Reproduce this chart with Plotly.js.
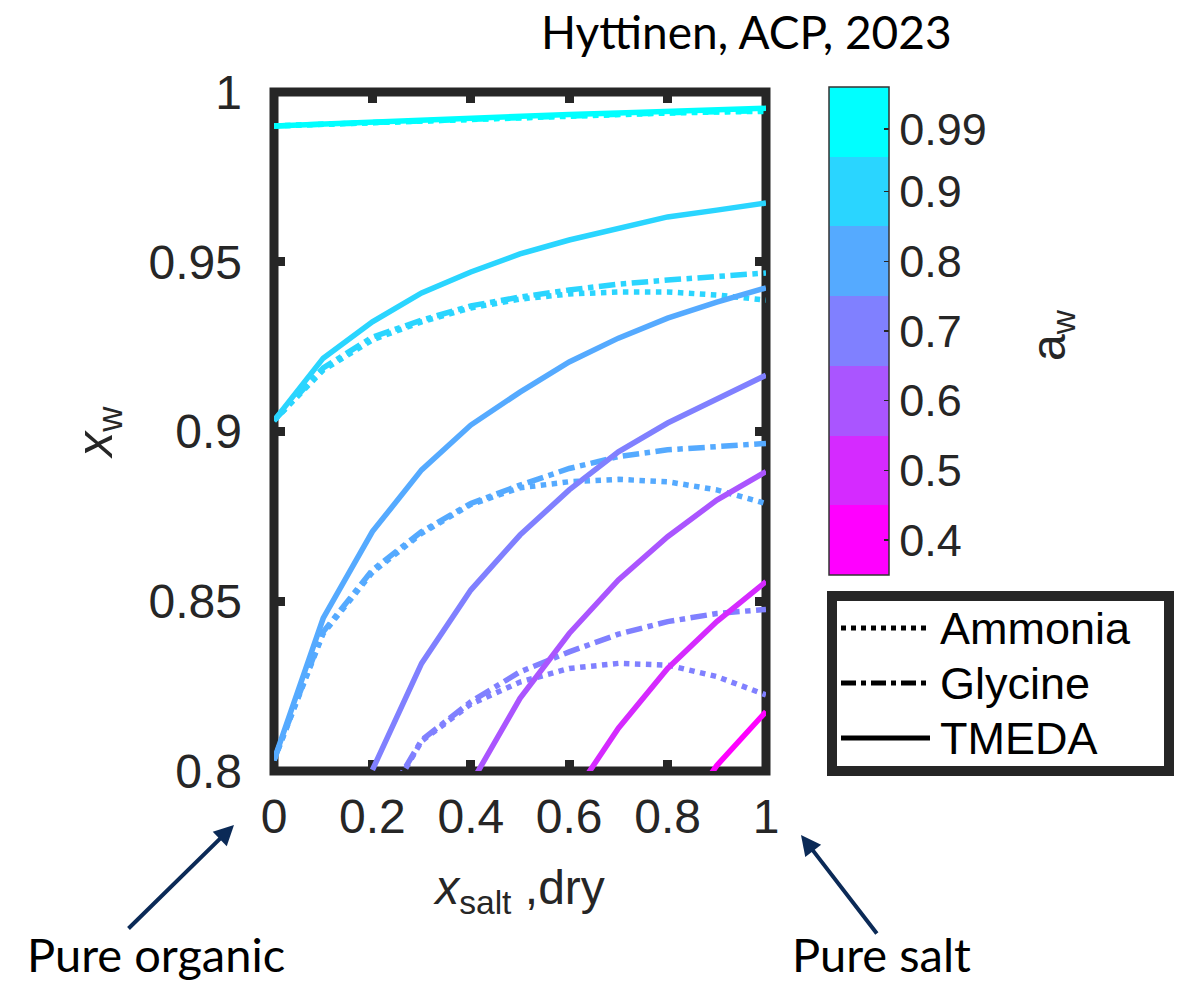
<!DOCTYPE html>
<html>
<head>
<meta charset="utf-8">
<script src="https://cdn.plot.ly/plotly-3.0.1.min.js"></script>
<style>
  html, body { margin: 0; padding: 0; background: #ffffff; }
  #chart { width: 1182px; height: 983px; }
</style>
</head>
<body>
<div id="chart"></div>
<script>
// ---------------- data ----------------
const xSaltDry = [0, 0.1, 0.2, 0.3, 0.4, 0.5, 0.6, 0.7, 0.8, 0.9, 1.0];

const awLevels = [0.99, 0.9, 0.8, 0.7, 0.6, 0.5, 0.4];
const awColors = ['#00ffff', '#2ad5ff', '#55aaff', '#8080ff', '#aa55ff', '#d52aff', '#ff00ff'];
const awTickText = ['0.99', '0.9', '0.8', '0.7', '0.6', '0.5', '0.4'];

// TMEDA (solid)
const tmeda_099 = [0.9900, 0.9906, 0.9912, 0.9918, 0.9924, 0.9929, 0.9934, 0.9938, 0.9942, 0.9947, 0.9952];
const tmeda_090 = [0.9032, 0.9216, 0.9323, 0.9408, 0.9470, 0.9523, 0.9564, 0.9600, 0.9632, 0.9652, 0.9673];
const tmeda_080 = [0.8032, 0.8450, 0.8705, 0.8887, 0.9019, 0.9116, 0.9205, 0.9275, 0.9334, 0.9381, 0.9423];
const tmeda_070 = [null, null, 0.8003, 0.8317, 0.8533, 0.8695, 0.8828, 0.8940, 0.9025, 0.9095, 0.9166];
const tmeda_060 = [null, null, null, null, 0.7962, 0.8214, 0.8405, 0.8563, 0.8690, 0.8798, 0.8882];
const tmeda_050 = [null, null, null, null, null, null, 0.7910, 0.8126, 0.8302, 0.8440, 0.8558];
const tmeda_040 = [null, null, null, null, null, null, null, null, 0.7810, 0.8016, 0.8175];

// Glycine (dash-dot)
const glycine_099 = [0.9900, 0.9905, 0.9911, 0.9917, 0.9922, 0.9927, 0.9932, 0.9936, 0.9939, 0.9942, 0.9945];
const glycine_090 = [0.9032, 0.9187, 0.9278, 0.9328, 0.9370, 0.9396, 0.9417, 0.9434, 0.9446, 0.9458, 0.9467];
const glycine_080 = [0.8032, 0.8410, 0.8592, 0.8705, 0.8788, 0.8842, 0.8891, 0.8926, 0.8946, 0.8957, 0.8965];
const glycine_070 = [null, null, 0.7846, 0.8091, 0.8204, 0.8292, 0.8351, 0.8403, 0.8440, 0.8464, 0.8476];

// Ammonia (dotted)
const ammonia_099 = [0.9900, 0.9905, 0.9911, 0.9916, 0.9921, 0.9926, 0.9930, 0.9934, 0.9938, 0.9941, 0.9943];
const ammonia_090 = [0.9032, 0.9181, 0.9270, 0.9323, 0.9364, 0.9390, 0.9405, 0.9411, 0.9411, 0.9402, 0.9387];
const ammonia_080 = [0.8032, 0.8405, 0.8585, 0.8700, 0.8785, 0.8834, 0.8852, 0.8859, 0.8852, 0.8828, 0.8788];
const ammonia_070 = [null, null, 0.7840, 0.8088, 0.8197, 0.8262, 0.8302, 0.8317, 0.8312, 0.8278, 0.8224];

const xTickVals = [0, 0.2, 0.4, 0.6, 0.8, 1];
const xTickText = ['0', '0.2', '0.4', '0.6', '0.8', '1'];
const yTickVals = [0.8, 0.85, 0.9, 0.95, 1];
const yTickText = ['0.8', '0.85', '0.9', '0.95', '1'];

const legendNames = ['Ammonia', 'Glycine', 'TMEDA'];

// ---------------- build traces ----------------
const series = [
  { name: 'Ammonia', dash: 'dot', data: { 0.99: ammonia_099, 0.9: ammonia_090, 0.8: ammonia_080, 0.7: ammonia_070 } },
  { name: 'Glycine', dash: 'dashdot', data: { 0.99: glycine_099, 0.9: glycine_090, 0.8: glycine_080, 0.7: glycine_070 } },
  { name: 'TMEDA', dash: 'solid', data: { 0.99: tmeda_099, 0.9: tmeda_090, 0.8: tmeda_080, 0.7: tmeda_070,
                                          0.6: tmeda_060, 0.5: tmeda_050, 0.4: tmeda_040 } }
];

const traces = [];
series.forEach(s => {
  awLevels.forEach((aw, i) => {
    const ys = s.data[aw];
    if (!ys) return;
    traces.push({
      type: 'scatter', mode: 'lines',
      x: xSaltDry, y: ys,
      name: s.name + ' a_w=' + aw,
      line: { color: awColors[i], width: 5.5, dash: s.dash },
      connectgaps: false,
      showlegend: false,
      hoverinfo: 'x+y+name'
    });
  });
});

// colour bar (discrete bands, one per water activity level)
const cmin = 0.35, cmax = 1.05;
const nBands = awLevels.length;
const bandColors = awColors.slice().reverse(); // low -> high
const colorscale = [];
for (let k = 0; k < nBands; k++) {
  colorscale.push([k / nBands, bandColors[k]]);
  colorscale.push([(k + 1) / nBands, bandColors[k]]);
}
traces.push({
  type: 'scatter', mode: 'markers',
  x: awLevels.map(() => null), y: awLevels.map(() => null),
  showlegend: false, hoverinfo: 'skip',
  marker: {
    color: awLevels, colorscale: colorscale, cmin: cmin, cmax: cmax, showscale: true, opacity: 0,
    colorbar: {
      x: (829 - 274) / 492, xanchor: 'left', xpad: 0, ypad: 0,
      y: (771 - 575) / 679, yanchor: 'bottom',
      len: 488, lenmode: 'pixels', thickness: 60, thicknessmode: 'pixels',
      outlinewidth: 1.5, outlinecolor: '#333333',
      tickmode: 'array', tickvals: awLevels, ticktext: awTickText,
      ticks: 'inside', ticklen: 5, tickwidth: 1.5, tickcolor: '#262626',
      tickfont: { family: 'Liberation Sans, Arial, sans-serif', size: 45, color: '#262626' }
    }
  }
});

// ---------------- layout ----------------
const W = 492, H = 679, L = 274, T = 92;
const px = v => (v - L) / W;          // pixel -> paper x (for annotation placement)
const py = v => (T + H - v) / H;      // pixel -> paper y

const tickFont = { family: 'Liberation Sans, Arial, sans-serif', size: 48, color: '#262626' };
const latoFont = { family: 'Lato, sans-serif', size: 47, color: '#000000' };

const shapes = [
  // thick axes box
  { type: 'rect', xref: 'paper', yref: 'paper', x0: 0, x1: 1, y0: 0, y1: 1,
    line: { color: '#262626', width: 9 }, fillcolor: 'rgba(0,0,0,0)', layer: 'below' },
  // legend box
  { type: 'rect', xref: 'paper', yref: 'paper', x0: px(832), x1: px(1169), y0: py(771), y1: py(596),
    line: { color: '#262626', width: 10 }, fillcolor: '#ffffff', layer: 'above' }
];
const legendDash = ['dot', 'dashdot', 'solid'];
const legendRowY = [628, 683, 738];
legendNames.forEach((n, i) => {
  shapes.push({ type: 'line', xref: 'paper', yref: 'paper', x0: px(841), x1: px(930),
    y0: py(legendRowY[i]), y1: py(legendRowY[i]),
    line: { color: '#000000', width: 5, dash: legendDash[i] }, layer: 'above' });
});

const annotations = [
  { xref: 'paper', yref: 'paper', x: px(746), y: py(31), text: 'Hyttinen, ACP, 2023',
    showarrow: false, xanchor: 'center', yanchor: 'middle', font: { family: 'Lato, sans-serif', size: 46, color: '#000000' } },
  { xref: 'paper', yref: 'paper', x: px(156), y: py(954), text: 'Pure organic',
    showarrow: false, xanchor: 'center', yanchor: 'middle', font: latoFont },
  { xref: 'paper', yref: 'paper', x: px(881), y: py(954), text: 'Pure salt',
    showarrow: false, xanchor: 'center', yanchor: 'middle', font: latoFont },
  { xref: 'paper', yref: 'paper', x: px(234), y: py(825), text: '', showarrow: true,
    axref: 'pixel', ayref: 'pixel', ax: -107, ay: 105,
    arrowhead: 2, arrowsize: 1, arrowwidth: 4, arrowcolor: '#0b2a57', standoff: 0 },
  { xref: 'paper', yref: 'paper', x: px(801), y: py(835), text: '', showarrow: true,
    axref: 'pixel', ayref: 'pixel', ax: 77, ay: 100,
    arrowhead: 2, arrowsize: 1, arrowwidth: 4, arrowcolor: '#0b2a57', standoff: 0 },
  { xref: 'paper', yref: 'paper', x: px(1052), y: py(335), text: 'a<sub>w</sub>', textangle: -90,
    showarrow: false, xanchor: 'center', yanchor: 'middle',
    font: { family: 'Liberation Sans, Arial, sans-serif', size: 48, color: '#262626' } }
];
legendNames.forEach((n, i) => {
  annotations.push({ xref: 'paper', yref: 'paper', x: px(938), y: py(legendRowY[i]), text: n,
    showarrow: false, xanchor: 'left', yanchor: 'middle',
    font: { family: 'Liberation Sans, Arial, sans-serif', size: 45, color: '#000000' } });
});

const layout = {
  width: 1182, height: 983,
  margin: { l: L, r: 1182 - L - W, t: T, b: 983 - T - H, pad: 0 },
  paper_bgcolor: '#ffffff', plot_bgcolor: '#ffffff',
  showlegend: false,
  xaxis: {
    range: [0, 1], tickmode: 'array', tickvals: xTickVals, ticktext: xTickText,
    showgrid: false, zeroline: false, showline: false,
    ticks: 'inside', ticklen: 11, tickwidth: 9, tickcolor: '#262626', mirror: 'ticks',
    ticklabelstandoff: 13, tickfont: tickFont, layer: 'below traces',
    title: { text: '<i>x</i><sub>salt</sub> ,dry', font: { family: 'Liberation Sans, Arial, sans-serif', size: 48, color: '#262626' }, standoff: 28 }
  },
  yaxis: {
    range: [0.8, 1], tickmode: 'array', tickvals: yTickVals, ticktext: yTickText,
    showgrid: false, zeroline: false, showline: false,
    ticks: 'inside', ticklen: 11, tickwidth: 9, tickcolor: '#262626', mirror: 'ticks',
    ticklabelstandoff: 31, tickfont: tickFont, layer: 'below traces',
    title: { text: '<i>x</i><sub>w</sub>', font: { family: 'Liberation Sans, Arial, sans-serif', size: 50, color: '#262626' }, standoff: 20 }
  },
  shapes: shapes,
  annotations: annotations
};

Plotly.newPlot('chart', traces, layout, { displayModeBar: false, staticPlot: true });
</script>
</body>
</html>
